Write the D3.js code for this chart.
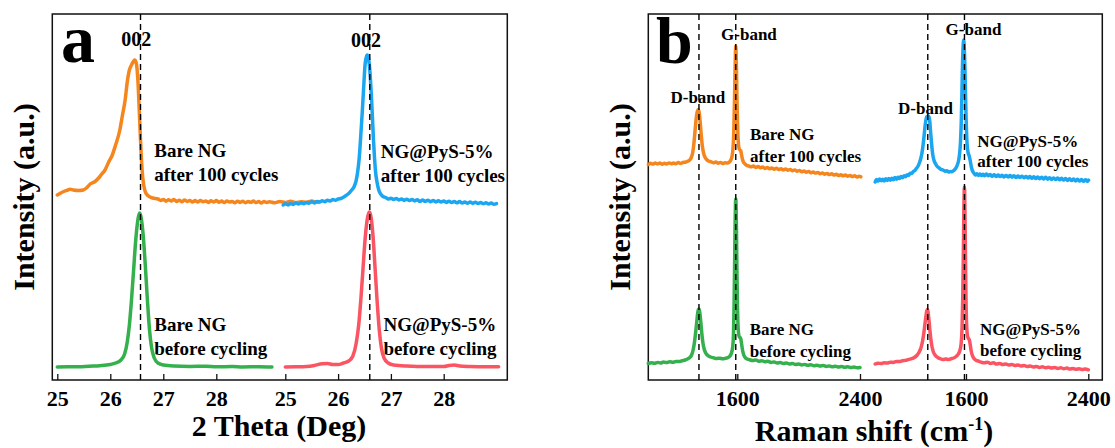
<!DOCTYPE html>
<html>
<head>
<meta charset="utf-8">
<script src="https://cdn.jsdelivr.net/npm/d3@7/dist/d3.min.js"></script>
<style>
  body { margin: 0; background: #fff; }
  svg text { font-family: "Liberation Serif", "Times New Roman", serif; font-weight: bold; fill: #000; }
</style>
</head>
<body>
<div id="chart"></div>
<script>
// ---- data (intensity in a.u.) ----
const xrdTicks = [25, 26, 27, 28];
const ramanTicks = [1600, 2400];
const xrdPeak = [26.57, 26.6];          // 002 reference line, left / right block
const ramanBands = [1350, 1590];        // D-band, G-band
const sampleNames = ["Bare NG", "NG@PyS-5%"];
const stateNames = ["after 100 cycles", "before cycling"];
const bandNames = ["D-band", "G-band"];
const peakName = "002";

// XRD, Bare NG after 100 cycles
const xrdBareAfter = [[25.0,185],[25.05,186.5],[25.1,188],[25.2,190],[25.24,190.7],[25.3,190],[25.4,189.5],[25.49,190],
  [25.55,192],[25.62,196],[25.7,198],[25.78,202],[25.84,206],[25.9,210],[25.97,218],[26.03,224],[26.1,235],[26.18,250],
  [26.23,265],[26.28,280],[26.32,298],[26.36,310],[26.4,315],[26.43,318],[26.46,320],[26.49,317],[26.52,300],[26.55,265],
  [26.57,240],[26.6,210],[26.63,195],[26.67,187],[26.72,184],[26.8,182],[26.9,181],[26.95,179.5],[27.0,180.5],[27.05,178.8],
  [27.1,180.2],[27.15,179],[27.2,180.6],[27.25,178.5],[27.3,179.8],[27.35,178.2],[27.4,180],[27.45,178.6],[27.5,179.5],
  [27.55,177.9],[27.6,179.4],[27.65,178],[27.7,179.6],[27.75,178.3],[27.8,179],[27.85,177.6],[27.9,179.2],[27.95,178],
  [28.0,179.4],[28.05,177.8],[28.1,178.9],[28.15,177.5],[28.2,179],[28.25,177.9],[28.3,178.6],[28.35,177.2],[28.4,178.8],
  [28.45,177.6],[28.5,178.7],[28.55,177.3],[28.6,178.5],[28.65,177.7],[28.7,178.9],[28.75,177.4],[28.8,178.4],[28.85,177],
  [28.9,178.6],[28.95,177.5],[29.0,178.2],[29.1,177.3],[29.2,178.5],[29.3,177.6],[29.4,178.8],[29.5,177.4],[29.6,178.3],
  [29.7,177.8],[29.8,178.9],[29.9,177.9],[29.95,178.4]];

// XRD, Bare NG before cycling
const xrdBareBefore = [[25.0,13],[25.2,13.3],[25.4,13.2],[25.6,13.8],[25.8,14.3],[26.0,15.5],[26.1,17],[26.2,20],[26.27,26],
  [26.32,38],[26.36,55],[26.4,80],[26.44,110],[26.48,140],[26.52,160],[26.55,167],[26.58,163],[26.62,145],[26.66,115],
  [26.7,80],[26.74,50],[26.78,32],[26.83,22],[26.9,17],[27.0,15],[27.2,14],[27.5,13.6],[27.8,13.8],[28.0,13.2],[28.3,13.5],
  [28.5,13],[28.8,13.3],[29.05,13]];

// XRD, NG@PyS-5% after 100 cycles
const xrdPysAfter = [[24.96,175],[25.0,176.2],[25.05,175.1],[25.1,176.4],[25.15,175.6],[25.2,177],[25.25,176],[25.3,177.2],
  [25.35,176.3],[25.4,177.6],[25.45,176.8],[25.5,178.2],[25.55,177.1],[25.6,178.6],[25.65,177.9],[25.7,179.2],[25.75,178.3],
  [25.8,179.8],[25.85,179],[25.9,180.4],[25.95,179.7],[26.0,181],[26.05,181.5],[26.1,182.8],[26.15,184.5],[26.2,186.5],
  [26.25,189.5],[26.3,193],[26.34,199],[26.37,208],[26.4,222],[26.43,245],[26.46,270],[26.49,298],[26.51,315],[26.53,322],
  [26.55,325],[26.57,323],[26.59,316],[26.61,303],[26.63,285],[26.65,263],[26.67,240],[26.69,222],[26.71,208],[26.74,197],
  [26.77,190],[26.8,186.5],[26.85,183.5],[26.9,182.5],[26.95,181],[27.0,181.8],[27.05,180.6],[27.1,181.5],[27.15,180.1],
  [27.2,181],[27.25,179.6],[27.3,180.7],[27.35,179.4],[27.4,180.5],[27.45,179.1],[27.5,180.2],[27.55,178.7],[27.6,179.9],
  [27.65,178.6],[27.7,179.8],[27.75,178.3],[27.8,179.5],[27.85,178.1],[27.9,179.3],[27.95,177.9],[28.0,179],[28.05,177.6],
  [28.1,178.8],[28.15,177.5],[28.2,178.6],[28.25,177.2],[28.3,178.4],[28.35,177],[28.4,178.1],[28.45,176.8],[28.5,178],
  [28.55,176.6],[28.6,177.7],[28.65,176.4],[28.7,177.5],[28.75,176.3],[28.8,177.2],[28.85,176],[28.9,177],[28.95,175.8],
  [29.0,176.4]];

// XRD, NG@PyS-5% before cycling
const xrdPysBefore = [[25.0,13],[25.2,13.2],[25.4,13.5],[25.55,14.5],[25.7,16.3],[25.8,16.5],[25.9,15.5],[26.0,15.5],
  [26.1,17],[26.2,19],[26.28,24],[26.34,36],[26.39,55],[26.43,80],[26.47,110],[26.51,140],[26.55,160],[26.59,168],[26.62,164],
  [26.66,145],[26.7,112],[26.74,78],[26.78,50],[26.82,32],[26.87,22],[26.95,17],[27.05,15],[27.3,14],[27.7,13.5],[28.0,13.5],
  [28.1,14.5],[28.2,15],[28.3,14],[28.5,13.5],[28.8,13.2],[29.04,13.2]];

// Raman, Bare NG after 100 cycles
const ramanBareAfter = [[1020,215.5],[1035,216.8],[1050,215.9],[1065,217],[1080,216.1],[1095,216.9],[1110,215.8],[1125,216.7],
  [1140,216],[1155,217.1],[1170,216.2],[1185,217],[1200,216.3],[1215,217.4],[1230,216.6],[1245,217.5],[1260,217.8],[1275,218.6],
  [1290,220],[1300,222.5],[1310,228],[1318,238],[1325,250],[1333,263],[1340,269],[1346,270.5],[1352,267],[1358,258],[1365,245],
  [1372,234],[1380,227],[1390,222.5],[1400,220.5],[1415,218.8],[1430,218.2],[1445,217.3],[1460,218],[1475,216.8],[1490,217.6],
  [1505,216.5],[1520,217.3],[1535,216.9],[1548,218],[1558,220],[1566,224],[1572,232],[1577,248],[1581,275],[1585,308],[1588,328],
  [1590,334],[1592,328],[1595,308],[1598,282],[1601,260],[1604,245],[1608,235],[1613,231],[1618,230],[1623,229],[1628,225],
  [1634,220.5],[1640,218],[1648,216.3],[1660,214.8],[1675,214],[1690,213.2],[1705,214],[1720,212.6],[1735,213.5],[1750,212.2],
  [1765,213],[1780,211.6],[1795,212.5],[1810,211.2],[1825,212],[1840,210.8],[1855,211.8],[1870,210.5],[1885,211.3],[1900,210],
  [1915,211],[1930,209.8],[1945,210.6],[1960,209.3],[1975,210.1],[1990,208.8],[2005,209.6],[2020,208.3],[2035,209],[2050,207.8],
  [2065,208.6],[2080,207.2],[2095,208],[2110,206.9],[2125,207.6],[2140,206.3],[2155,207.1],[2170,205.8],[2185,206.6],[2200,205.4],
  [2215,206.2],[2230,205],[2245,205.8],[2260,204.5],[2275,205.3],[2290,204.2],[2305,205],[2320,203.8],[2335,204.6],[2350,203.4],
  [2365,204.2],[2380,203],[2395,203.8],[2405,203.2]];

// Raman, Bare NG before cycling
const ramanBareBefore = [[1020,16.5],[1040,17.3],[1060,16.8],[1080,17.6],[1100,17.1],[1120,17.9],[1140,17.4],[1160,18.2],
  [1180,17.8],[1200,18.6],[1220,18.4],[1240,19.3],[1260,20],[1275,21],[1290,22.5],[1302,25],[1312,30],[1320,37],[1328,47],
  [1335,57],[1341,66],[1346,70.5],[1351,71],[1356,67],[1362,58],[1369,46],[1376,37],[1384,31],[1394,27],[1408,24.5],[1425,23],
  [1445,22.2],[1465,21.5],[1485,21.8],[1505,21.2],[1525,21.8],[1540,22.5],[1552,24],[1562,27],[1570,33],[1575,45],[1579,75],
  [1582,110],[1585,150],[1588,176],[1590,181],[1592,175],[1595,145],[1598,105],[1601,75],[1604,57],[1608,47],[1613,43],
  [1618,42.5],[1623,41],[1628,36],[1634,30],[1642,25],[1652,22.3],[1665,21],[1680,20.2],[1700,19.5],[1720,20],[1740,18.8],
  [1760,19.3],[1780,18.2],[1800,18.7],[1820,17.6],[1840,18.1],[1860,17],[1880,17.6],[1900,16.5],[1920,17],[1940,16],[1960,16.5],
  [1980,15.5],[2000,16],[2020,15.1],[2040,15.6],[2060,14.7],[2080,15.2],[2100,14.3],[2120,14.8],[2140,14],[2160,14.5],
  [2180,13.6],[2200,14.1],[2220,13.3],[2240,13.8],[2260,13],[2280,13.5],[2300,12.7],[2320,13.2],[2340,12.4],[2360,12.9],
  [2380,12.2],[2400,12.5]];

// Raman, NG@PyS-5% after 100 cycles
const ramanPysAfter = [[1006,198],[1015,200.5],[1025,198.8],[1035,201],[1045,199.2],[1055,200.8],[1065,199],[1075,201.3],
  [1085,199.6],[1095,201.5],[1105,199.8],[1115,201.8],[1125,200.2],[1135,202.4],[1145,200.8],[1155,202.8],[1165,201.5],
  [1175,203.5],[1185,202.3],[1195,204.2],[1205,203.2],[1215,205.3],[1225,204.6],[1235,206.8],[1245,206.5],[1255,208.5],
  [1265,209.5],[1275,211.5],[1285,213.5],[1295,217],[1305,222],[1313,228],[1320,236],[1327,246],[1333,255],[1339,261],
  [1344,263.5],[1349,262],[1354,264],[1359,262.5],[1364,257],[1369,247],[1375,236],[1382,226],[1390,220],[1400,216.5],
  [1412,213.5],[1425,212],[1438,210.5],[1450,210],[1462,208.8],[1475,209.2],[1487,208],[1497,208.6],[1508,208.2],[1520,209.5],
  [1532,211.5],[1542,214.5],[1551,219],[1558,226],[1564,238],[1569,258],[1573,285],[1577,315],[1581,333],[1585,340],[1589,332],
  [1593,312],[1597,285],[1601,260],[1605,242],[1610,231],[1616,226],[1622,223.5],[1628,219],[1635,213],[1643,209],[1652,206.8],
  [1662,205],[1672,206.2],[1682,204.6],[1692,206],[1702,204.4],[1712,205.8],[1722,204.2],[1732,205.9],[1745,204.3],[1758,205.5],
  [1771,203.8],[1784,205.2],[1797,203.6],[1810,205],[1823,203.4],[1836,204.8],[1849,203.1],[1862,204.6],[1875,203],[1888,204.4],
  [1901,202.8],[1914,204.3],[1927,202.5],[1940,204],[1953,202.6],[1966,203.8],[1979,202.2],[1992,203.6],[2005,202],[2018,203.5],
  [2031,201.7],[2044,203.2],[2057,201.5],[2070,203],[2083,201.3],[2096,202.8],[2109,201.1],[2122,202.7],[2135,200.8],[2148,202.3],
  [2161,200.6],[2174,202.1],[2187,200.4],[2200,201.9],[2213,200.2],[2226,201.7],[2239,199.9],[2252,201.5],[2265,199.6],[2278,201.2],
  [2291,199.4],[2304,200.9],[2317,199.1],[2330,200.7],[2343,198.9],[2356,200.4],[2369,198.7],[2382,200.2],[2395,198.6],[2402,199.8]];

// Raman, NG@PyS-5% before cycling
const ramanPysBefore = [[1006,16],[1025,16.8],[1045,16.4],[1065,17.2],[1085,16.9],[1105,17.8],[1125,17.6],[1145,18.5],
  [1165,18.4],[1185,19.3],[1205,19.6],[1225,20.6],[1245,21.3],[1262,22.5],[1278,24.5],[1292,27.5],[1305,32],[1316,39],[1325,48],
  [1333,58],[1339,65],[1344,69.5],[1348,70.5],[1352,68],[1357,61],[1363,51],[1370,41],[1378,33],[1388,27.5],[1400,24.5],
  [1415,22.5],[1432,21.3],[1450,20.6],[1468,20.9],[1485,20.5],[1502,21.3],[1519,22],[1535,23.5],[1550,26],[1560,29.5],[1568,36],
  [1574,52],[1579,85],[1583,130],[1586,170],[1588,188],[1590,193],[1592,182],[1595,145],[1598,105],[1601,72],[1605,52],[1610,44],
  [1616,41.5],[1622,40],[1628,35],[1634,29],[1642,24.5],[1652,21.5],[1665,19.8],[1680,19],[1700,17.8],[1720,17.2],[1740,17.8],
  [1760,16.6],[1780,17.2],[1800,16],[1820,16.6],[1840,15.4],[1860,16],[1880,14.9],[1900,15.5],[1920,14.4],[1940,15],[1960,13.9],
  [1980,14.5],[2000,13.4],[2020,14],[2040,13],[2060,13.6],[2080,12.6],[2100,13.2],[2120,12.3],[2140,12.8],[2160,11.9],[2180,12.5],
  [2200,11.6],[2220,12.2],[2240,11.3],[2260,11.9],[2280,11],[2300,11.6],[2320,10.7],[2340,11.3],[2360,10.5],[2380,11],[2400,10.2]];

// ---- layout ----
var w = 1115, h = 448;
var plotTop = 14, plotBottom = 380;
var colors = { orange: "#f5861e", green: "#34b04d", blue: "#1aa6f1", red: "#fb5462" };

var svg = d3.select("#chart").append("svg")
    .attr("width", w)
    .attr("height", h);

// shared intensity scale (arbitrary units)
var y = d3.scaleLinear().domain([0, 366]).range([plotBottom, plotTop]);

// each panel has two blocks placed side by side on one frame
var xA1 = d3.scaleLinear().domain([25, 29]).range([57.3, 269.3]);
var xA2 = d3.scaleLinear().domain([25, 29]).range([285.3, 496.5]);
var xB1 = d3.scaleLinear().domain([1600, 2400]).range([737.3, 860]);
var xB2 = d3.scaleLinear().domain([1600, 2400]).range([966, 1088.3]);

function frame(x0, x1) {
    svg.append("rect")
        .attr("x", x0).attr("y", plotTop)
        .attr("width", x1 - x0).attr("height", plotBottom - plotTop)
        .style("fill", "none")
        .style("stroke", "#111")
        .style("stroke-width", 1.5);
}

function axis(x, ticks) {
    var g = svg.append("g")
        .attr("transform", "translate(0," + plotBottom + ")")
        .call(d3.axisBottom(x).tickValues(ticks).tickSize(-6).tickPadding(10.5).tickFormat(d3.format("d")));
    g.select(".domain").remove();
    g.selectAll(".tick line").style("stroke", "#111").style("stroke-width", 1.3);
    g.selectAll(".tick text")
        .style("font-size", "22px")
        .style("font-family", "'Liberation Serif', serif")
        .style("font-weight", "bold")
        .style("fill", "#000");
}

function curve(data, x, color) {
    var line = d3.line()
        .x(function (d) { return x(d[0]); })
        .y(function (d) { return y(d[1]); })
        .curve(d3.curveMonotoneX);
    svg.append("path")
        .datum(data)
        .attr("d", line)
        .style("fill", "none")
        .style("stroke", color)
        .style("stroke-width", 3.5)
        .style("stroke-linejoin", "round")
        .style("stroke-linecap", "round");
}

function refLine(xpos) {
    svg.append("line")
        .attr("x1", xpos).attr("x2", xpos)
        .attr("y1", plotTop).attr("y2", plotBottom)
        .style("stroke", "#000")
        .style("stroke-width", 1.4)
        .style("stroke-dasharray", "6,4");
}

function label(txt, xpos, yval, size, anchor) {
    return svg.append("text")
        .attr("x", xpos)
        .attr("y", y(yval))
        .attr("text-anchor", anchor || "start")
        .style("font-size", size + "px")
        .text(txt);
}

function yTitle(xpos) {
    svg.append("text")
        .attr("transform", "translate(" + xpos + "," + ((plotTop + plotBottom) / 2) + ") rotate(-90)")
        .attr("text-anchor", "middle")
        .style("font-size", "30px")
        .text("Intensity (a.u.)");
}

// ---- panel a : XRD ----
frame(52.3, 507.3);
axis(xA1, xrdTicks);
axis(xA2, xrdTicks);

curve(xrdBareAfter, xA1, colors.orange);
curve(xrdBareBefore, xA1, colors.green);
curve(xrdPysAfter, xA2, colors.blue);
curve(xrdPysBefore, xA2, colors.red);

refLine(xA1(xrdPeak[0]));
refLine(xA2(xrdPeak[1]));

label(peakName, xA1(26.49), 334.5, 20, "middle");
label(peakName, xA2(26.53), 333.5, 20, "middle");
label(sampleNames[0], xA1(26.83), 223, 19);
label(stateNames[0], xA1(26.83), 199.5, 19);
label(sampleNames[1], xA2(26.81), 222, 19);
label(stateNames[0], xA2(26.81), 198.3, 19);
label(sampleNames[0], xA1(26.83), 49, 19);
label(stateNames[1], xA1(26.83), 25, 19);
label(sampleNames[1], xA2(26.86), 49, 19);
label(stateNames[1], xA2(26.86), 25, 19);

svg.append("text").attr("x", 61).attr("y", 62).style("font-size", "68px").text("a");
yTitle(34);
svg.append("text")
    .attr("x", 279).attr("y", 436)
    .attr("text-anchor", "middle")
    .style("font-size", "30px")
    .text("2 Theta (Deg)");

// ---- panel b : Raman ----
frame(648.3, 1102.3);
axis(xB1, ramanTicks);
axis(xB2, ramanTicks);

curve(ramanBareAfter, xB1, colors.orange);
curve(ramanBareBefore, xB1, colors.green);
curve(ramanPysAfter, xB2, colors.blue);
curve(ramanPysBefore, xB2, colors.red);

ramanBands.forEach(function (b) {
    refLine(xB1(b));
    refLine(xB2(b));
});

label(bandNames[0], xB1(1343), 276.7, 17, "middle");
label(bandNames[1], xB1(1676), 340, 17, "middle");
label(bandNames[0], xB2(1335), 265.7, 17, "middle");
label(bandNames[1], xB2(1649), 345, 17, "middle");
label(sampleNames[0], xB1(1683), 240, 17);
label(stateNames[0], xB1(1683), 218.3, 17);
label(sampleNames[1], xB2(1674), 233.3, 17);
label(stateNames[0], xB2(1674), 213.3, 17);
label(sampleNames[0], xB1(1681), 45, 17);
label(stateNames[1], xB1(1681), 23.3, 17);
label(sampleNames[1], xB2(1692), 45, 17);
label(stateNames[1], xB2(1692), 24, 17);

svg.append("text").attr("x", 656).attr("y", 63).style("font-size", "66px").text("b");
yTitle(630);
var xt = svg.append("text")
    .attr("x", 874).attr("y", 441)
    .attr("text-anchor", "middle")
    .style("font-size", "30px");
xt.append("tspan").text("Raman shift (cm");
xt.append("tspan").attr("dy", -11).style("font-size", "18px").text("-1");
xt.append("tspan").attr("dy", 11).text(")");
</script>
</body>
</html>
